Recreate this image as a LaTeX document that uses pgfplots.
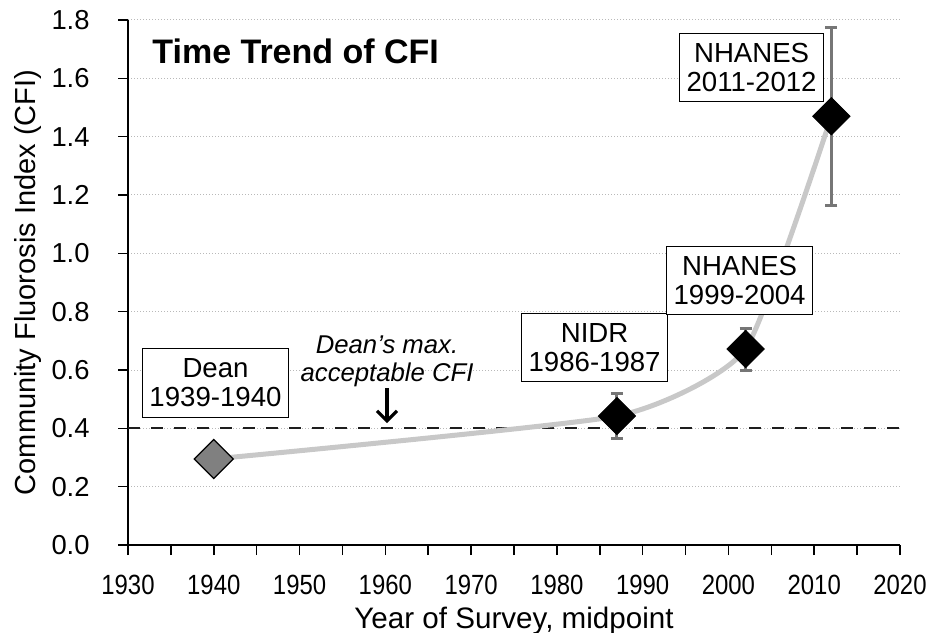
\documentclass[border=0pt]{standalone}
\usepackage{fontspec}
\setmainfont{Liberation Sans}
\usepackage{graphicx}
\usepackage{pgfplots}
\pgfplotsset{compat=1.18}
\usetikzlibrary{arrows.meta}
\definecolor{lineGray}{RGB}{200,200,200}
\definecolor{markGray}{RGB}{128,128,128}
\definecolor{errGray}{RGB}{118,118,118}
\definecolor{gridGray}{RGB}{185,185,185}
\definecolor{dashDark}{RGB}{30,30,30}
\newcommand{\xs}[1]{\scalebox{0.86}[1]{#1}}
\begin{document}
\begin{tikzpicture}
\begin{axis}[
  at={(0,0)}, anchor=south west,
  scale only axis, width=386pt, height=262.5pt,
  xmin=1930, xmax=2020, ymin=0, ymax=1.8,
  axis lines=left, axis line style={-, line width=1pt, black},
  clip=false,
  xtick={1930,1940,1950,1960,1970,1980,1990,2000,2010,2020},
  xticklabels={\xs{1930},\xs{1940},\xs{1950},\xs{1960},\xs{1970},\xs{1980},\xs{1990},\xs{2000},\xs{2010},\xs{2020}},
  minor xtick={1935,1945,1955,1965,1975,1985,1995,2005,2015},
  ytick={0,0.2,0.4,0.6,0.8,1.0,1.2,1.4,1.6,1.8},
  yticklabels={0.0,0.2,0.4,0.6,0.8,1.0,1.2,1.4,1.6,1.8},
  tick align=outside, major tick length=5pt, minor tick length=5pt,
  tick style={line width=0.75pt, black},
  ymajorgrids, grid style={gridGray, line width=0.5pt, dash pattern=on 0.5pt off 1pt},
  yticklabel style={font=\fontsize{13.7}{14}\selectfont, inner sep=0pt, anchor=east, xshift=-14pt},
  xticklabel style={font=\fontsize{13.9}{14}\selectfont, inner sep=0pt, anchor=north, yshift=-10pt},
]
% Dean's maximum acceptable CFI
\addplot[dashDark, line width=1.1pt, dash pattern=on 6pt off 5.5pt, forget plot] coordinates {(1930,0.4) (2020,0.4)};
% trend line
\addplot[lineGray, line width=2.5pt, smooth, tension=0.3, forget plot] coordinates {
(1940,0.295) (1987,0.442) (2002,0.672) (2012,1.47)};
% error bars
\addplot[only marks, mark=none, forget plot,
  error bars/.cd, y dir=both, y explicit,
  error bar style={draw=errGray, line width=1.5pt},
  error mark options={rotate=90, draw=errGray, line width=1.5pt, mark size=3pt}]
  coordinates {
(1987,0.442) +- (0,0.077)
(2002,0.672) +- (0,0.072)
(2012,1.47) +- (0,0.305)};
% markers
\addplot[only marks, mark=square*, mark size=6.6pt, mark options={rotate=45, fill=black, draw=black}, forget plot] coordinates {
(1987,0.442) (2002,0.672) (2012,1.47)};
\addplot[only marks, mark=square*, mark size=6.9pt, mark options={rotate=45, fill=markGray, draw=black, line width=0.6pt}, forget plot] coordinates {
(1940,0.295)};
% labels
\tikzset{lbox/.style={draw=black, line width=0.5pt, fill=white, align=center, font=\fontsize{13.8}{14.5}\selectfont, inner xsep=3.5pt, inner ysep=5pt}}
\node[lbox] at (axis cs:1940.2,0.555) {Dean\\1939-1940};
\node[lbox] at (axis cs:1984.4,0.677) {NIDR\\1986-1987};
\node[lbox] at (axis cs:2001.3,0.907) {NHANES\\1999-2004};
\node[lbox] at (axis cs:2002.7,1.637) {NHANES\\2011-2012};
\node[anchor=base, inner sep=0pt, font=\itshape\fontsize{12.85}{14}\selectfont] at (axis cs:1960.2,0.658) {Dean’s max.};
\node[anchor=base, inner sep=0pt, font=\itshape\fontsize{12.85}{14}\selectfont] at (axis cs:1960.2,0.559) {acceptable CFI};
\draw[line width=1.6pt, -{Straight Barb[length=5pt, width=10pt]}] (axis cs:1960.2,0.538) -- (axis cs:1960.2,0.418);
\node[anchor=base west, inner sep=0pt, font=\bfseries\fontsize{17}{18}\selectfont] at (axis cs:1932.8,1.652) {Time Trend of CFI};
\node[anchor=base, inner sep=0pt, font=\fontsize{14.8}{15}\selectfont] at ([yshift=-41.5pt]rel axis cs:0.5,0) {Year of Survey, midpoint};
\node[anchor=base, rotate=90, inner sep=0pt, font=\fontsize{14.5}{15}\selectfont] at ([xshift=-46pt]rel axis cs:0,0.5) {Community Fluorosis Index (CFI)};
\end{axis}
\pgfresetboundingbox
\path[use as bounding box] (-64pt,-43.5pt) rectangle (401.5pt,272.5pt);
\end{tikzpicture}
\end{document}
